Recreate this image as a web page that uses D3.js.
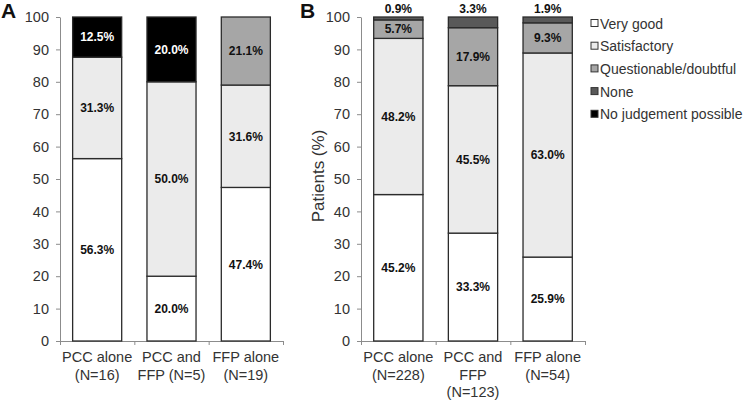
<!DOCTYPE html>
<html><head><meta charset="utf-8">
<script src="https://cdn.jsdelivr.net/npm/d3@7"></script>
<style>body{margin:0;background:#fff}svg{display:block}text{font-family:"Liberation Sans",Arial,sans-serif}</style>
</head><body><svg id="c" width="750" height="400"></svg>
<script>
const seriesNames = ["Very good","Satisfactory","Questionable/doubtful","None","No judgement possible"];
const seriesColors = ["#ffffff","#ebebeb","#a6a6a6","#595959","#000000"];
const yTicks = [0,10,20,30,40,50,60,70,80,90,100];
// Panel A
const catsA = [["PCC alone","(N=16)"],["PCC and","FFP (N=5)"],["FFP alone","(N=19)"]];
const valsA = [[56.3,31.3,0,0,12.5],[20.0,60.0,0,0,20.0],[47.4,31.6,21.1,0,0]];
const labelsA = [["56.3%","31.3%","","","12.5%"],["20.0%","50.0%","","","20.0%"],["47.4%","31.6%","21.1%","",""]];
// Panel B
const catsB = [["PCC alone","(N=228)"],["PCC and","FFP","(N=123)"],["FFP alone","(N=54)"]];
const valsB = [[45.2,48.2,5.7,0.9,0],[33.3,45.5,17.9,3.3,0],[25.9,63.0,9.3,1.9,0]];
const labelsB = [["45.2%","48.2%","5.7%","0.9%",""],["33.3%","45.5%","17.9%","3.3%",""],["25.9%","63.0%","9.3%","1.9%",""]];

const svg = d3.select("#c");
const y = d3.scaleLinear().domain([0,100]).range([341,17]);
const FF = "Liberation Sans, Arial, sans-serif";

function panel(x0, x1, cats, vals, labels, letter, letterX){
  const x = d3.scaleBand().domain(d3.range(cats.length)).range([x0,x1]).paddingInner(0.34).paddingOuter(0.17);
  const g = svg.append("g");
  const ya = g.append("g").attr("transform",`translate(${x0},0)`).call(d3.axisLeft(y).tickValues(yTicks).tickSize(4).tickSizeOuter(0));
  ya.attr("font-family",FF);
  ya.select(".domain").attr("stroke","#8c8c8c");
  ya.selectAll(".tick line").attr("stroke","#8c8c8c");
  ya.selectAll(".tick text").attr("font-size",14.5).attr("fill","#333").attr("x",-11).attr("font-family",FF);
  const xb = d3.scaleLinear().domain([0,cats.length]).range([x0,x1]);
  const xa = g.append("g").attr("transform",`translate(0,${y(0)})`).call(d3.axisBottom(xb).tickValues(d3.range(cats.length+1)).tickSize(4).tickSizeOuter(0).tickFormat(""));
  xa.select(".domain").attr("stroke","#8c8c8c");
  xa.selectAll(".tick line").attr("stroke","#8c8c8c");
  vals.forEach((row,i)=>{
    let cum=0;
    row.forEach((v,j)=>{
      if(v<=0){return;}
      const y0=cum, y1=Math.min(cum+v,100); cum+=v;
      g.append("rect").attr("x",x(i)).attr("width",x.bandwidth())
        .attr("y",y(y1)).attr("height",y(y0)-y(y1))
        .attr("fill",seriesColors[j]).attr("stroke","#2b2b2b").attr("stroke-width",1.3);
      const lab = labels[i][j];
      if(lab){
        const small = (y(y0)-y(y1))<12;
        const ly = small ? y(100)-4 : (y(y0)+y(y1))/2+4.3;
        g.append("text").attr("x",x(i)+x.bandwidth()/2).attr("y",ly).attr("text-anchor","middle")
          .attr("font-size",12).attr("font-weight","bold").attr("fill", j===4?"#fff":"#111").text(lab);
      }
    });
  });
  cats.forEach((lines,i)=>{
    const t = g.append("text").attr("text-anchor","middle").attr("font-size",14.5).attr("fill","#333");
    lines.forEach((l,k)=>t.append("tspan").attr("x",x(i)+x.bandwidth()/2).attr("y",362+k*17.5).text(l));
  });
  g.append("text").attr("x",letterX).attr("y",18).attr("font-size",21).attr("font-weight","bold").attr("fill","#111").text(letter);
}
panel(60,283,catsA,valsA,labelsA,"A",1);
panel(361,585,catsB,valsB,labelsB,"B",300);

svg.append("text").attr("transform","translate(324,176) rotate(-90)").attr("text-anchor","middle")
  .attr("font-size",17).attr("fill","#333").text("Patients (%)");

const lg = svg.append("g");
seriesNames.forEach((n,i)=>{
  const yy = 23 + i*22.7;
  lg.append("rect").attr("x",591).attr("y",yy-3.5).attr("width",7).attr("height",7)
    .attr("fill",seriesColors[i]).attr("stroke","#333").attr("stroke-width",1);
  lg.append("text").attr("x",600).attr("y",yy+5.5).attr("font-size",14).attr("fill","#333").text(n);
});
</script></body></html>
